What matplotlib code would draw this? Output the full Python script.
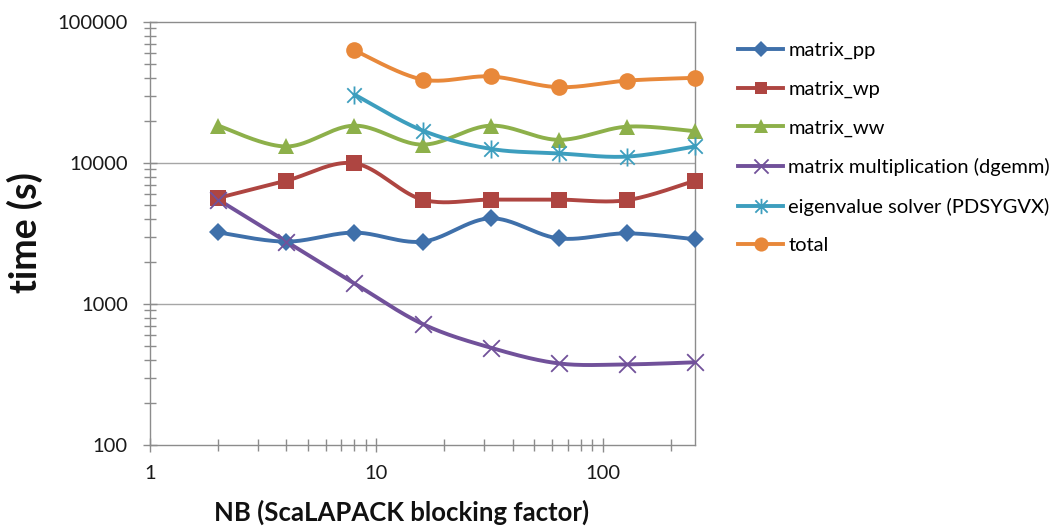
import numpy as np
import matplotlib
matplotlib.use('Agg')
import matplotlib.pyplot as plt
from matplotlib.path import Path
from matplotlib.lines import Line2D
from matplotlib.ticker import FixedLocator, NullFormatter, FixedFormatter

plt.rcParams['font.family'] = ['Lato', 'DejaVu Sans']

# ---- data ----
nb = [2, 4, 8, 16, 32, 64, 128, 256]
matrix_pp = [3220, 2770, 3210, 2770, 4050, 2920, 3170, 2880]
matrix_wp = [5650, 7490, 9950, 5500, 5500, 5500, 5450, 7490]
matrix_ww = [18400, 13100, 18400, 13500, 18400, 14600, 18100, 16800]
dgemm = [5500, 2770, 1400, 722, 490, 379, 373, 386]
eigen_nb = [8, 16, 32, 64, 128, 256]
eigen = [30600, 17000, 12600, 11700, 11100, 13100]
total_nb = [8, 16, 32, 64, 128, 256]
total = [63000, 39100, 41100, 34500, 38400, 40200]

labels = ['matrix_pp', 'matrix_wp', 'matrix_ww',
          'matrix multiplication (dgemm)', 'eigenvalue solver (PDSYGVX)', 'total']
xticks = [1, 10, 100]
yticks = [100, 1000, 10000, 100000]

colors = ['#3F70AA', '#AE4541', '#8DB04A', '#71519A', '#3D9EBE', '#E8883A']

star = Path([(-1, -1), (1, 1), (-1, 1), (1, -1), (0, -1.25), (0, 1.25)],
            [Path.MOVETO, Path.LINETO, Path.MOVETO, Path.LINETO, Path.MOVETO, Path.LINETO])
xmark = Path([(-1, -1), (1, 1), (-1, 1), (1, -1)],
             [Path.MOVETO, Path.LINETO, Path.MOVETO, Path.LINETO])

series = [
    (nb, matrix_pp, 'D', 9, colors[0]),
    (nb, matrix_wp, 's', 11, colors[1]),
    (nb, matrix_ww, '^', 12, colors[2]),
    (nb, dgemm, xmark, 12, colors[3]),
    (eigen_nb, eigen, star, 13, colors[4]),
    (total_nb, total, 'o', 12, colors[5]),
]


def smooth(x, y, n=40):
    P = np.column_stack([np.log10(x), np.log10(y)])
    out = [P[0]]
    t = np.linspace(0, 1, n)[1:, None]
    for i in range(len(P) - 1):
        p0 = P[i - 1] if i > 0 else P[i]
        p1, p2 = P[i], P[i + 1]
        p3 = P[i + 2] if i + 2 < len(P) else P[i + 1]
        c1 = p1 + (p2 - p0) / 6
        c2 = p2 - (p3 - p1) / 6
        seg = (1 - t) ** 3 * p1 + 3 * (1 - t) ** 2 * t * c1 + 3 * (1 - t) * t ** 2 * c2 + t ** 3 * p2
        out.extend(seg)
    out = np.array(out)
    return 10 ** out[:, 0], 10 ** out[:, 1]


fig = plt.figure(figsize=(10.59, 5.28), dpi=100)
ax = fig.add_axes([150 / 1059, 1 - 445 / 528, (695 - 150) / 1059, (445 - 22) / 528])
ax.set_xscale('log')
ax.set_yscale('log')
ax.set_xlim(1, 256)
ax.set_ylim(100, 100000)

for yv in [1000, 10000]:
    ax.axhline(yv, color='#A6A6A6', lw=1.0, zorder=0)

handles = []
for (x, y, m, ms, c), lab in zip(series, labels):
    sx, sy = smooth(x, y)
    ax.plot(sx, sy, color=c, lw=2.8, solid_capstyle='round', zorder=2)
    mew = 1.3 if m in (xmark, star) else 0
    ax.plot(x, y, ls='none', marker=m, ms=ms, color=c, mec=c, mew=mew, zorder=3, clip_on=False)
    handles.append(Line2D([], [], color=c, lw=2.8, marker=m, ms=ms * 0.85, mec=c, mew=mew))

for s in ax.spines.values():
    s.set_color('#8C8C8C')
    s.set_linewidth(1.0)

ax.xaxis.set_major_locator(FixedLocator(xticks))
ax.xaxis.set_major_formatter(FixedFormatter([str(v) for v in xticks]))
minx = [m * d for d in [1, 10, 100] for m in range(2, 10) if m * d <= 256]
ax.xaxis.set_minor_locator(FixedLocator(minx))
ax.xaxis.set_minor_formatter(NullFormatter())
ax.yaxis.set_major_locator(FixedLocator(yticks))
ax.yaxis.set_major_formatter(FixedFormatter([str(v) for v in yticks]))
miny = [m * d for d in [100, 1000, 10000] for m in range(2, 10)]
ax.yaxis.set_minor_locator(FixedLocator(miny))
ax.yaxis.set_minor_formatter(NullFormatter())

ax.tick_params(which='both', direction='inout', color='#8C8C8C', width=1.0)
ax.tick_params(which='major', length=10, labelsize=14.5, labelcolor='#1a1a1a')
ax.tick_params(which='minor', length=8)
ax.tick_params(axis='x', which='major', pad=9.5)
ax.tick_params(axis='y', which='major', pad=11)

fig.text(25 / 1059, 1 - 233 / 528, 'time (s)', rotation=90, ha='center', va='center',
         fontsize=27, fontweight='bold', color='#111111')
fig.text(402 / 1059, 1 - 512 / 528, 'NB (ScaLAPACK blocking factor)', ha='center', va='center',
         fontsize=18.5, fontweight='bold', color='#111111')

fig.legend(handles, labels, loc='upper left', bbox_to_anchor=(738 / 1059, 1 - 42 / 528),
           frameon=False, fontsize=14.5, handlelength=2.25, handletextpad=0.25,
           labelspacing=1.06, borderpad=0, borderaxespad=0)

fig.savefig('out.png', dpi=100)
